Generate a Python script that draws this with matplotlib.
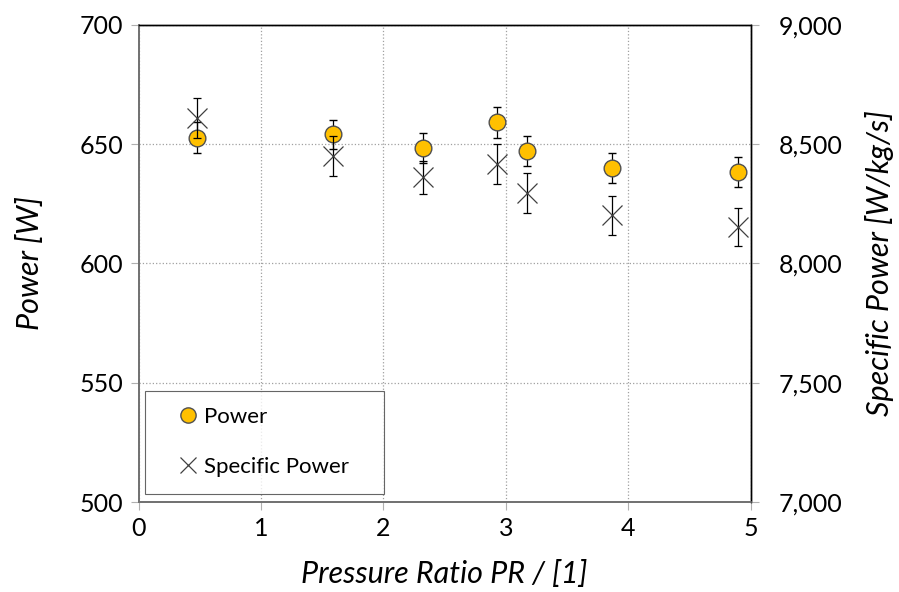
import matplotlib.pyplot as plt
from matplotlib.ticker import FuncFormatter

plt.rcParams['font.family'] = ['Lato', 'DejaVu Sans']

pressure_ratio = [0.48, 1.59, 2.32, 2.93, 3.17, 3.87, 4.90]
power = [652.7, 654.1, 648.2, 659.1, 647.0, 640.0, 638.2]
power_err = [6.5, 6.2, 6.3, 6.5, 6.3, 6.3, 6.3]
specific_power = [8610, 8452, 8361, 8417, 8294, 8201, 8152]
specific_err = [85, 84, 68, 85, 84, 83, 80]

fig = plt.figure(figsize=(8.99, 5.92), dpi=100)
ax = fig.add_axes([0.1543, 0.152, 0.6807, 0.806])
ax2 = ax.twinx()

ax.errorbar(pressure_ratio, power, yerr=power_err, fmt='o', color='#FFC000',
            markeredgecolor='#505050', markersize=12, markeredgewidth=1,
            ecolor='black', elinewidth=0.9, capsize=3, capthick=0.9,
            label='Power', zorder=3)
ax2.errorbar(pressure_ratio, specific_power, yerr=specific_err, fmt='x',
             color='#404040', markersize=14, markeredgewidth=0.9,
             ecolor='black', elinewidth=0.9, capsize=3, capthick=0.9,
             label='Specific Power', zorder=3)

ax.set_xlim(0, 5)
ax.set_ylim(500, 700)
ax2.set_ylim(7000, 9000)
ax.set_xticks([0, 1, 2, 3, 4, 5])
ax.set_yticks([500, 550, 600, 650, 700])
ax2.set_yticks([7000, 7500, 8000, 8500, 9000])
ax2.yaxis.set_major_formatter(FuncFormatter(lambda v, p: f'{v:,.0f}'))

ax.grid(True, color='#a0a0a0', linestyle=':', linewidth=0.9)
ax.set_axisbelow(True)
for a in (ax, ax2):
    a.tick_params(labelsize=18, length=6, width=0.8, direction='out',
                  color='#b0b0b0', pad=5)
    a.spines['left'].set_color('#707070')
    a.spines['bottom'].set_color('#707070')
    a.spines['left'].set_linewidth(1.2)
    a.spines['bottom'].set_linewidth(1.2)
    a.spines['top'].set_linewidth(1.0)
    a.spines['right'].set_linewidth(1.0)
ax2.tick_params(axis='y', pad=14)

ax.set_xlabel('Pressure Ratio PR / [1]', fontsize=22, style='italic', labelpad=14)
ax.set_ylabel('Power [W]', fontsize=22, style='italic', labelpad=26)
ax2.set_ylabel('Specific Power [W/kg/s]', fontsize=22, style='italic', labelpad=16)

h1, l1 = ax.get_legend_handles_labels()
h2, l2 = ax2.get_legend_handles_labels()
leg = ax2.legend([h[0] for h in h1 + h2], l1 + l2, loc='lower left',
                 bbox_to_anchor=(0.011, 0.017, 0.39, 0.22), mode='expand',
                 borderaxespad=0, fontsize=16, frameon=True, fancybox=False,
                 edgecolor='#404040', handletextpad=-0.4, labelspacing=1.35,
                 handlelength=2.3, borderpad=0.75)
leg.get_frame().set_linewidth(0.8)
leg.set_zorder(5)
for lh in leg.legend_handles:
    lh.set_markersize(11)

fig.savefig('out.png', dpi=100)
